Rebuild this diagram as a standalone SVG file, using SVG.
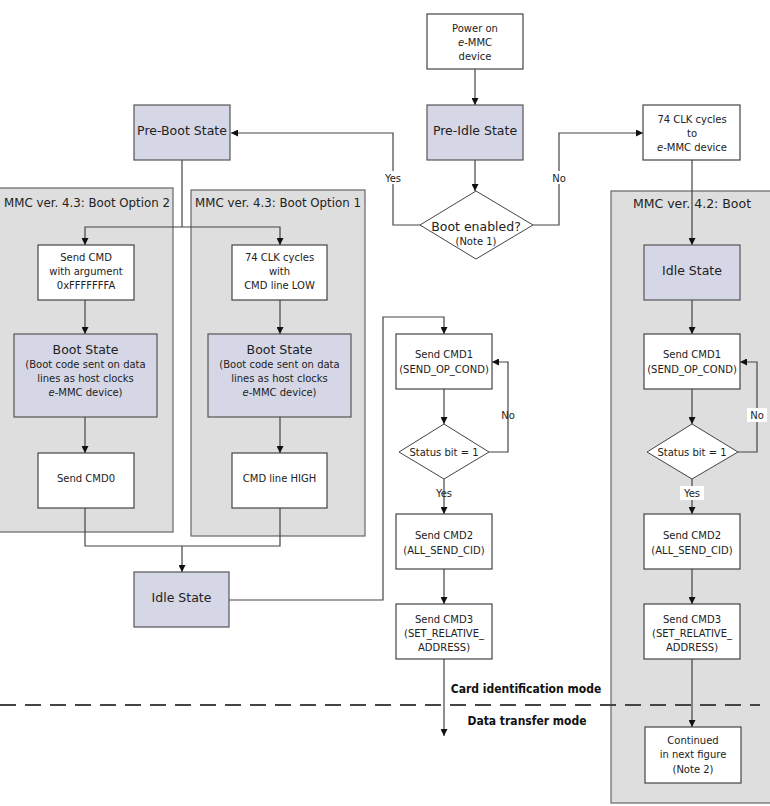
<svg xmlns="http://www.w3.org/2000/svg" width="770" height="806" viewBox="0 0 770 806">
<defs>
<marker id="ah" viewBox="0 0 8 8" refX="8" refY="4" markerWidth="7" markerHeight="7" markerUnits="userSpaceOnUse" orient="auto">
<path d="M0,0 L8,4 L0,8 z" fill="#111"/>
</marker>
<style>
.panel{fill:#dedede;stroke:#666;stroke-width:1.2}
.box{fill:#fff;stroke:#444;stroke-width:1.2}
.state{fill:#d5d7e6;stroke:#555;stroke-width:1.2}
.dia{fill:#fff;stroke:#444;stroke-width:1}
.ln{fill:none;stroke:#444;stroke-width:1.2}
.arr{fill:none;stroke:#444;stroke-width:1.2;marker-end:url(#ah)}
text{font-family:"DejaVu Sans","Liberation Sans",sans-serif;fill:#222;text-anchor:middle}
.t10{font-size:10px}
.t12{font-size:12.5px}
.pt{font-size:11.8px}
.lab{font-size:10px}
.mode{font-family:"DejaVu Sans Condensed","DejaVu Sans",sans-serif;font-size:12px;font-weight:bold;font-stretch:condensed;fill:#111}
</style>
</defs>
<rect width="770" height="806" fill="#fff"/>

<g id="panels">
<rect id="panel-opt2" class="panel" x="-2" y="188" width="175" height="344"/>
<rect id="panel-opt1" class="panel" x="191" y="190" width="174" height="346"/>
<rect id="panel-42" class="panel" x="611" y="191" width="162" height="612"/>
<text class="pt" x="87" y="207">MMC ver. 4.3: Boot Option 2</text>
<text class="pt" x="278" y="207">MMC ver. 4.3: Boot Option 1</text>
<text class="t12" x="692" y="208">MMC ver. 4.2: Boot</text>
</g>

<g id="mode-divider">
<line x1="0" y1="705" x2="760" y2="705" stroke="#444" stroke-width="2" stroke-dasharray="16,9"/>
<text class="mode" x="526" y="693">Card identification mode</text>
<text class="mode" x="527" y="725">Data transfer mode</text>
</g>

<g id="connectors">
<line class="arr" x1="475" y1="69" x2="475" y2="105"/>
<line class="arr" x1="475" y1="160" x2="475" y2="191"/>
<polyline class="arr" points="420,225 393,225 393,133 231,133"/>
<polyline class="arr" points="533,225 559,225 559,133 643,133"/>
<line class="arr" x1="692" y1="160" x2="692" y2="245"/>
<line class="ln" x1="182" y1="160" x2="182" y2="227"/>
<polyline class="arr" points="182,227 85,227 85,245"/>
<polyline class="arr" points="182,227 280,227 280,245"/>
<line class="arr" x1="85" y1="300" x2="85" y2="334"/>
<line class="arr" x1="280" y1="300" x2="280" y2="334"/>
<line class="arr" x1="85" y1="417" x2="85" y2="453"/>
<line class="arr" x1="280" y1="417" x2="280" y2="453"/>
<polyline class="ln" points="85,508 85,546 280,546 280,508"/>
<line class="arr" x1="182" y1="546" x2="182" y2="572"/>
<polyline class="arr" points="229,600 383,600 383,317 444,317 444,334"/>
<line class="arr" x1="444" y1="389" x2="444" y2="424"/>
<polyline class="arr" points="489,452 508,452 508,362 492,362"/>
<line class="arr" x1="444" y1="479" x2="444" y2="514"/>
<line class="arr" x1="444" y1="569" x2="444" y2="604"/>
<line class="arr" x1="444" y1="659" x2="444" y2="736"/>
<line class="arr" x1="692" y1="300" x2="692" y2="334"/>
<line class="arr" x1="692" y1="389" x2="692" y2="424"/>
<polyline class="arr" points="738,452 757,452 757,362 740,362"/>
<line class="arr" x1="692" y1="479" x2="692" y2="514"/>
<line class="arr" x1="692" y1="569" x2="692" y2="604"/>
<line class="arr" x1="692" y1="659" x2="692" y2="727"/>
<rect x="381" y="171" width="24" height="13" fill="#fff"/>
<text class="lab" x="393" y="181.5">Yes</text>
<rect x="549" y="171" width="20" height="13" fill="#fff"/>
<text class="lab" x="559" y="181.5">No</text>
<text class="lab" x="508" y="418.5">No</text>
<text class="lab" x="444" y="496.5">Yes</text>
<rect x="747" y="408" width="20" height="14" fill="#fff"/>
<text class="lab" x="757" y="418.5">No</text>
<rect x="680" y="486" width="24" height="14" fill="#fff"/>
<text class="lab" x="692" y="496.5">Yes</text>
</g>

<g id="power-on">
<rect class="box" x="427" y="14" width="96" height="55"/>
<text class="t10" x="475" y="31.5">Power on</text>
<text class="t10" x="475" y="45.5"><tspan font-style="italic">e</tspan>-MMC</text>
<text class="t10" x="475" y="59.5">device</text>
</g>
<g id="pre-idle">
<rect class="state" x="427" y="105" width="96" height="55"/>
<text class="t12" x="475" y="134.5">Pre-Idle State</text>
</g>
<g id="boot-enabled">
<polygon class="dia" points="476,191 533,225 476,259 420,225"/>
<text class="t12" x="476" y="230.5">Boot enabled?</text>
<text class="t10" x="476" y="244.5" font-size="9.5">(Note 1)</text>
</g>
<g id="pre-boot">
<rect class="state" x="134" y="105" width="96" height="55"/>
<text class="t12" x="182" y="134.5">Pre-Boot State</text>
</g>
<g id="clk-74">
<rect class="box" x="643" y="105" width="97" height="55"/>
<text class="t10" x="692" y="122.5">74 CLK cycles</text>
<text class="t10" x="692" y="136.5">to</text>
<text class="t10" x="692" y="150.5"><tspan font-style="italic">e</tspan>-MMC device</text>
</g>

<g id="send-cmd-arg">
<rect class="box" x="38" y="245" width="96" height="55"/>
<text class="t10" x="86" y="260.5">Send CMD</text>
<text class="t10" x="86" y="274.5">with argument</text>
<text class="t10" x="86" y="288.5">0xFFFFFFFA</text>
</g>
<g id="boot-state-2">
<rect class="state" x="14" y="334" width="143" height="83"/>
<text class="t12" x="85.5" y="353.5" font-size="13.5px">Boot State</text>
<text class="t10" x="85.5" y="367.5">(Boot code sent on data</text>
<text class="t10" x="85.5" y="381.5">lines as host clocks</text>
<text class="t10" x="85.5" y="395.5"><tspan font-style="italic">e</tspan>-MMC device)</text>
</g>
<g id="send-cmd0">
<rect class="box" x="38" y="453" width="96" height="55"/>
<text class="t10" x="86" y="481.5">Send CMD0</text>
</g>

<g id="clk-74-low">
<rect class="box" x="232" y="245" width="95" height="55"/>
<text class="t10" x="279.5" y="260.5">74 CLK cycles</text>
<text class="t10" x="279.5" y="274.5">with</text>
<text class="t10" x="279.5" y="288.5">CMD line LOW</text>
</g>
<g id="boot-state-1">
<rect class="state" x="208" y="334" width="143" height="83"/>
<text class="t12" x="279.5" y="353.5" font-size="13.5px">Boot State</text>
<text class="t10" x="279.5" y="367.5">(Boot code sent on data</text>
<text class="t10" x="279.5" y="381.5">lines as host clocks</text>
<text class="t10" x="279.5" y="395.5"><tspan font-style="italic">e</tspan>-MMC device)</text>
</g>
<g id="cmd-line-high">
<rect class="box" x="232" y="453" width="95" height="55"/>
<text class="t10" x="279.5" y="481.5">CMD line HIGH</text>
</g>

<g id="idle-left">
<rect class="state" x="134" y="572" width="95" height="55"/>
<text class="t12" x="181.5" y="602">Idle State</text>
</g>

<g id="cmd1-mid">
<rect class="box" x="396" y="334" width="96" height="55"/>
<text class="t10" x="444" y="357.5">Send CMD1</text>
<text class="t10" x="444" y="372.5">(SEND_OP_COND)</text>
</g>
<g id="status-mid">
<polygon class="dia" points="444,424 489,452 444,479 399,452"/>
<text class="t10" x="444" y="456">Status bit = 1</text>
</g>
<g id="cmd2-mid">
<rect class="box" x="396" y="514" width="96" height="55"/>
<text class="t10" x="444" y="538.5">Send CMD2</text>
<text class="t10" x="444" y="553.5">(ALL_SEND_CID)</text>
</g>
<g id="cmd3-mid">
<rect class="box" x="396" y="604" width="96" height="55"/>
<text class="t10" x="444" y="622.5">Send CMD3</text>
<text class="t10" x="444" y="636.5">(SET_RELATIVE_</text>
<text class="t10" x="444" y="650.5">ADDRESS)</text>
</g>

<g id="idle-right">
<rect class="state" x="644" y="245" width="96" height="55"/>
<text class="t12" x="692" y="274.5">Idle State</text>
</g>
<g id="cmd1-right">
<rect class="box" x="644" y="334" width="96" height="55"/>
<text class="t10" x="692" y="357.5">Send CMD1</text>
<text class="t10" x="692" y="372.5">(SEND_OP_COND)</text>
</g>
<g id="status-right">
<polygon class="dia" points="692,424 738,452 692,479 647,452"/>
<text class="t10" x="692" y="456">Status bit = 1</text>
</g>
<g id="cmd2-right">
<rect class="box" x="644" y="514" width="96" height="55"/>
<text class="t10" x="692" y="538.5">Send CMD2</text>
<text class="t10" x="692" y="553.5">(ALL_SEND_CID)</text>
</g>
<g id="cmd3-right">
<rect class="box" x="644" y="604" width="96" height="55"/>
<text class="t10" x="692" y="622.5">Send CMD3</text>
<text class="t10" x="692" y="636.5">(SET_RELATIVE_</text>
<text class="t10" x="692" y="650.5">ADDRESS)</text>
</g>
<g id="continued">
<rect class="box" x="645" y="727" width="96" height="56"/>
<text class="t10" x="693" y="743.5">Continued</text>
<text class="t10" x="693" y="758">in next figure</text>
<text class="t10" x="693" y="772.5">(Note 2)</text>
</g>
</svg>
